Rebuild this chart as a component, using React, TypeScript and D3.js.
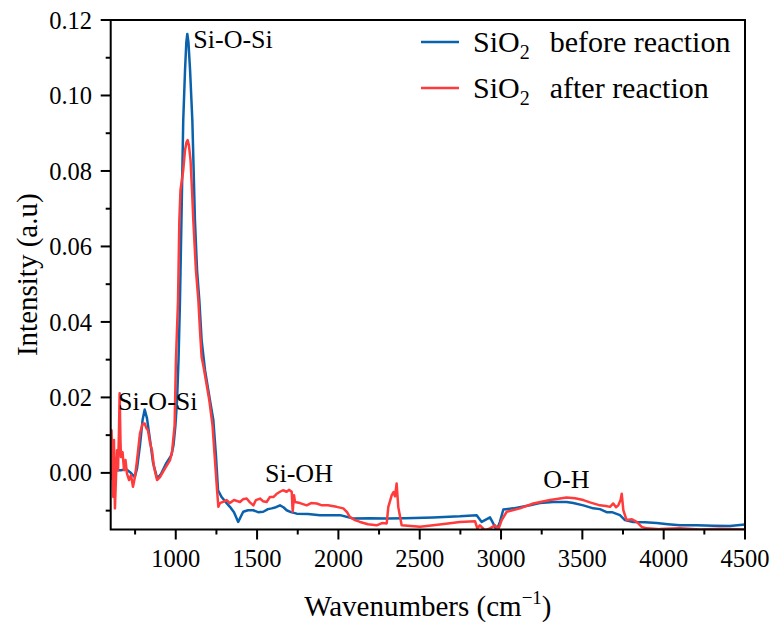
import React from "react";
import * as d3 from "d3";

const blueWave = [602,633,663,694,719,748,762,780,796,809,823,842,860,886,909,942,973,986,998,1008,1017,1026,1035,1046,1057,1065,1071,1078,1088,1102,1118,1131,1145,1159,1180,1210,1231,1247,1260,1282,1309,1333,1358,1384,1401,1415,1444,1477,1506,1538,1567,1590,1616,1641,1662,1682,1708,1744,1813,1887,2010,2092,2194,2297,2409,2583,2747,2850,2881,2901,2932,2952,2973,2993,3014,3075,3178,3239,3321,3403,3444,3506,3567,3608,3649,3682,3731,3762,3813,3885,3957,4026,4100,4203,4305,4407,4500];
const blueInt = [0.0012,0.0007,0.0007,0.001,0.0002,-0.0011,0.0012,0.0073,0.014,0.0168,0.0145,0.0087,0.0028,-0.0015,-0.0003,0.0026,0.0047,0.0073,0.0126,0.0193,0.0299,0.0457,0.0669,0.0934,0.1067,0.1141,0.1163,0.1141,0.1067,0.0934,0.0669,0.0537,0.0457,0.0352,0.0272,0.0193,0.014,0.0047,-0.0046,-0.0064,-0.0078,-0.009,-0.0104,-0.013,-0.0115,-0.0103,-0.0099,-0.0099,-0.0104,-0.0103,-0.0096,-0.0094,-0.0091,-0.0086,-0.0091,-0.0099,-0.0104,-0.0108,-0.0109,-0.0112,-0.0112,-0.0121,-0.012,-0.0121,-0.012,-0.0118,-0.0115,-0.0112,-0.013,-0.0125,-0.0118,-0.0134,-0.0152,-0.013,-0.0097,-0.0094,-0.0086,-0.008,-0.0077,-0.0077,-0.008,-0.0086,-0.0094,-0.0096,-0.0104,-0.0104,-0.0112,-0.0125,-0.013,-0.0131,-0.0133,-0.0136,-0.0139,-0.0139,-0.014,-0.0141,-0.0137];

const redWave = [600,605,611,616,620,626,633,639,645,651,655,660,663,673,682,691,700,713,725,737,749,762,780,796,809,820,829,842,854,866,885,903,934,965,977,993,1001,1014,1022,1029,1046,1057,1066,1073,1081,1091,1100,1108,1124,1139,1149,1159,1170,1206,1226,1241,1254,1262,1272,1290,1313,1333,1358,1395,1413,1436,1456,1477,1493,1518,1536,1559,1579,1600,1619,1641,1659,1682,1696,1713,1719,1727,1733,1764,1805,1832,1867,1899,1936,1989,2030,2053,2071,2102,2133,2182,2235,2268,2297,2307,2328,2339,2348,2358,2368,2389,2502,2583,2661,2747,2840,2854,2870,2901,2932,2963,2983,3004,3035,3116,3198,3301,3403,3455,3506,3547,3608,3645,3670,3690,3707,3721,3735,3742,3752,3772,3805,3834,3865,3895,3977,4100,4223,4346,4500];
const redInt = [-0.0019,0.0113,0.0007,-0.0064,0.0087,-0.0094,-0.0006,0.006,0.0007,0.0113,0.0211,0.0087,0.0042,0.0055,0.0007,0.0034,-0.0002,-0.0019,-0.0006,-0.0037,-0.0011,0.0034,0.0105,0.0129,0.0131,0.0118,0.0113,0.0079,0.006,0.0016,-0.0019,-0.0011,0.0012,0.0034,0.0055,0.0126,0.0298,0.0457,0.0669,0.0749,0.0802,0.0855,0.0876,0.0882,0.0868,0.0828,0.0749,0.0669,0.0537,0.0457,0.0377,0.0307,0.0283,0.0193,0.0126,0.0034,-0.0046,-0.009,-0.008,-0.0077,-0.0072,-0.008,-0.0072,-0.0077,-0.007,-0.0068,-0.0078,-0.0086,-0.0072,-0.0068,-0.0075,-0.0077,-0.0064,-0.0064,-0.0056,-0.005,-0.0046,-0.005,-0.0045,-0.005,-0.0103,-0.0059,-0.0077,-0.008,-0.0086,-0.008,-0.0081,-0.0086,-0.0086,-0.009,-0.0094,-0.0104,-0.0117,-0.0125,-0.013,-0.0136,-0.0139,-0.0133,-0.0134,-0.009,-0.0059,-0.0051,-0.0062,-0.0028,-0.009,-0.0139,-0.0143,-0.0139,-0.0135,-0.013,-0.0128,-0.0147,-0.0139,-0.0152,-0.0147,-0.0139,-0.015,-0.0125,-0.0103,-0.0094,-0.0081,-0.0072,-0.0065,-0.0067,-0.0072,-0.0078,-0.0086,-0.0088,-0.009,-0.0081,-0.0091,-0.0086,-0.0072,-0.0055,-0.0099,-0.0125,-0.0123,-0.013,-0.0143,-0.0147,-0.0149,-0.0147,-0.015,-0.0148,-0.015];

const xTicks = [1000, 1500, 2000, 2500, 3000, 3500, 4000, 4500];
const xMinor = [750, 1250, 1750, 2250, 2750, 3250, 3750, 4250];
const yTicks = [0.0, 0.02, 0.04, 0.06, 0.08, 0.1, 0.12];
const yMinor = [-0.01, 0.01, 0.03, 0.05, 0.07, 0.09, 0.11];

const seriesNames = ["before reaction", "after reaction"];
const colors = ["#0a62ad", "#ff3b3b"];

const annotations = [
  { text: "Si-O-Si", wn: 1108, val: 0.1125 },
  { text: "Si-O-Si", wn: 645, val: 0.0166 },
  { text: "Si-OH", wn: 1549, val: -0.0024 },
  { text: "O-H", wn: 3260, val: -0.0041 },
];

const W = 773, H = 625;
const L = 110.7, R = 745, T = 20, B = 529.5;
const FONT = '"Liberation Serif", "Tinos", "DejaVu Serif", serif';

export default function App() {
  const x = d3.scaleLinear().domain([600, 4500]).range([L, R]);
  const y = d3.scaleLinear().domain([-0.015, 0.12]).range([B, T]);
  const line = d3
    .line<[number, number]>()
    .x((d) => x(d[0]))
    .y((d) => y(d[1]));
  const blue = blueWave.map((w, i) => [w, blueInt[i]] as [number, number]);
  const red = redWave.map((w, i) => [w, redInt[i]] as [number, number]);

  return (
    <svg
      width={W}
      height={H}
      style={{ position: "absolute", left: 0, top: 0, background: "#fff", fontFamily: FONT }}
    >
      <defs>
        <clipPath id="plot">
          <rect x={L} y={T} width={R - L} height={B - T} />
        </clipPath>
      </defs>
      <g clipPath="url(#plot)" fill="none" strokeWidth={2.5} strokeLinejoin="round">
        <path d={line(blue) || ""} stroke={colors[0]} />
        <path d={line(red) || ""} stroke={colors[1]} />
      </g>
      <rect x={L} y={T} width={R - L} height={B - T} fill="none" stroke="#000" strokeWidth={2} />
      {xTicks.map((t) => (
        <g key={"xt" + t}>
          <line x1={x(t)} x2={x(t)} y1={B} y2={B + 10} stroke="#000" strokeWidth={2} />
          <text x={x(t)} y={567} fontSize={24.5} textAnchor="middle" fill="#000">
            {t}
          </text>
        </g>
      ))}
      {xMinor.map((t) => (
        <line key={"xm" + t} x1={x(t)} x2={x(t)} y1={B} y2={B + 5} stroke="#000" strokeWidth={2} />
      ))}
      {yTicks.map((t) => (
        <g key={"yt" + t}>
          <line x1={L - 10} x2={L} y1={y(t)} y2={y(t)} stroke="#000" strokeWidth={2} />
          <text x={92} y={y(t)} dy="0.35em" fontSize={24.5} textAnchor="end" fill="#000">
            {t.toFixed(2)}
          </text>
        </g>
      ))}
      {yMinor.map((t) => (
        <line key={"ym" + t} x1={L - 5} x2={L} y1={y(t)} y2={y(t)} stroke="#000" strokeWidth={2} />
      ))}
      <text x={(L + R) / 2} y={616} fontSize={29} textAnchor="middle" fill="#000">
        Wavenumbers (cm
        <tspan fontSize={19} dy={-12}>−1</tspan>
        <tspan dy={12}>)</tspan>
      </text>
      <text
        transform={`translate(37,${(T + B) / 2}) rotate(-90)`}
        fontSize={29}
        textAnchor="middle"
        fill="#000"
      >
        Intensity (a.u)
      </text>
      {annotations.map((a, i) => (
        <text key={"an" + i} x={x(a.wn)} y={y(a.val)} fontSize={26} fill="#000">
          {a.text}
        </text>
      ))}
      {seriesNames.map((n, i) => (
        <g key={"lg" + i}>
          <line x1={421} x2={459} y1={42 + i * 46} y2={42 + i * 46} stroke={colors[i]} strokeWidth={2.5} />
          <text x={473} y={51.5 + i * 46} fontSize={30} fill="#000">
            SiO
            <tspan fontSize={20} dy={7}>2</tspan>
            <tspan dx={20} dy={-7}>{n}</tspan>
          </text>
        </g>
      ))}
    </svg>
  );
}
